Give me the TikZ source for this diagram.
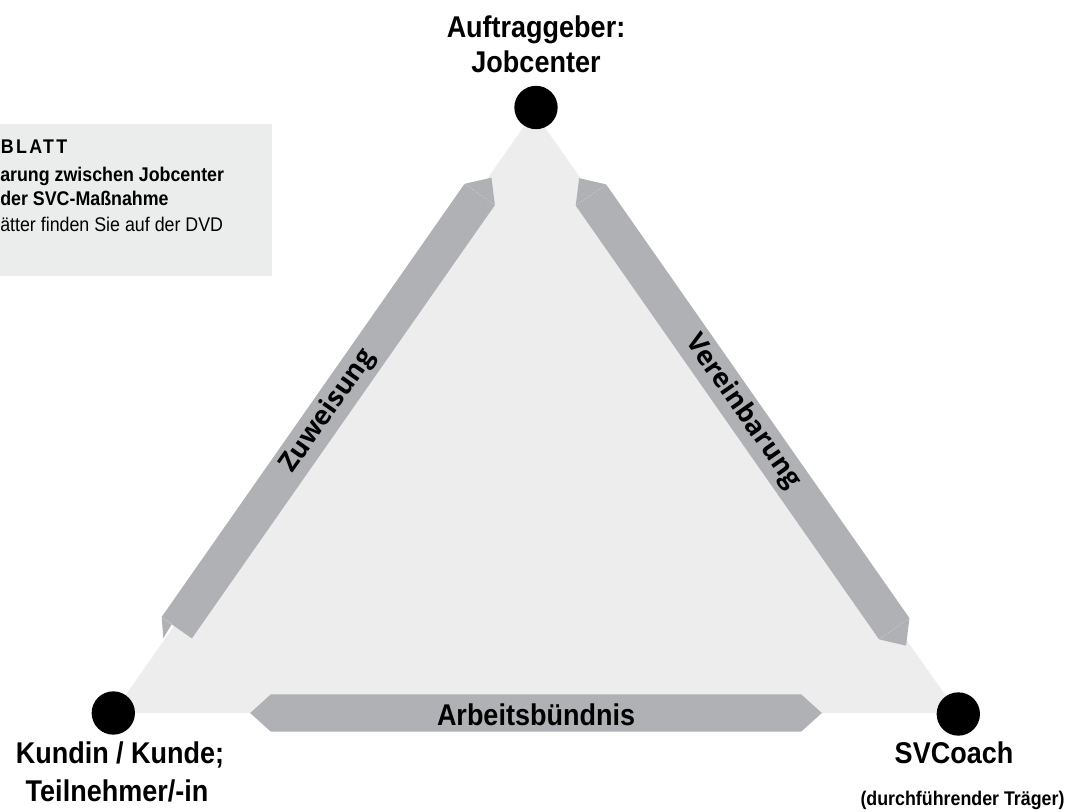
\documentclass[tikz,border=0pt]{standalone}
\usepackage{fontspec}
\usetikzlibrary{calc}
\newfontfamily\labfont{Liberation Sans}[FakeStretch=0.9]
\newfontfamily\diagfont{Open Sans}
\definecolor{bandgray}{HTML}{B0B1B4}
\definecolor{trigray}{HTML}{EDEDED}
\definecolor{infobg}{HTML}{EBECEC}
\def\bw{13.9pt}
\def\bt{15.4pt}
\begin{document}
\begin{tikzpicture}[x=0.75pt,y=-0.75pt,
  foldline/.style={draw=white, draw opacity=0.45, line width=0.3pt, dash pattern=on 1pt off 1pt},
  dotnode/.style={circle, fill=black, minimum size=32.5pt, inner sep=0pt},
  mainlab/.style={font=\labfont\bfseries\fontsize{22.5}{27}\selectfont, inner sep=0pt, anchor=base},
  sublab/.style={font=\labfont\bfseries\fontsize{14.85}{18}\selectfont, inner sep=0pt, anchor=base},
  infolab/.style={font=\labfont\fontsize{14.85}{18}\selectfont, inner sep=0pt, anchor=base west},
  bandlab/.style={font=\diagfont\bfseries\fontsize{20}{24}\selectfont, inner sep=0pt},
]
\useasboundingbox (0,0) rectangle (1066,812);

% info box
\fill[infobg] (0,124) rectangle (271.7,275.7);
\node[infolab] (i1) at (0.5,153.3) {\bfseries\addfontfeatures{LetterSpace=12}BLATT};
\node[infolab] (i2) at (0,181.7) {\bfseries arung zwischen Jobcenter};
\node[infolab] (i3) at (0,206) {\bfseries der SVC-Maßnahme};
\node[infolab] (i4) at (0,231.7) {ätter finden Sie auf der DVD};

% triangle
\coordinate (apex) at (534,112);
\coordinate (bl) at (113,713);
\coordinate (br) at (958,713);
\fill[trigray] (apex) -- (bl) -- (br) -- cycle;

% band end points
\coordinate (zA) at (479.7,194.5);
\coordinate (zB) at (176.7,627.8);
\coordinate (vA) at (590.9,195);
\coordinate (vB) at (894.3,628.8);
\coordinate (aA) at (270.7,713);
\coordinate (aB) at (801.3,713);

% Vereinbarung band (two tips)
\fill[bandgray] ($(vA)!-\bt!(vB)$) -- ($(vA)!\bw!90:(vB)$) -- ($(vB)!\bw!-90:(vA)$) -- ($(vB)!-\bt!(vA)$) -- ($(vB)!\bw!90:(vA)$) -- ($(vA)!\bw!-90:(vB)$) -- cycle;
\draw[foldline] ($(vA)!\bw!90:(vB)$) -- ($(vA)!\bw!-90:(vB)$);
\draw[foldline] ($(vB)!\bw!90:(vA)$) -- ($(vB)!\bw!-90:(vA)$);

% Arbeitsbuendnis band (two tips)
\fill[bandgray] ($(aA)!-\bt!(aB)$) -- ($(aA)!\bw!90:(aB)$) -- ($(aB)!\bw!-90:(aA)$) -- ($(aB)!-\bt!(aA)$) -- ($(aB)!\bw!90:(aA)$) -- ($(aA)!\bw!-90:(aB)$) -- cycle;

% Zuweisung band (tip at top, folded end at bottom)
\fill[bandgray] ($(zA)!-\bt!(zB)$) -- ($(zA)!\bw!90:(zB)$) -- ($(zB)!\bw!-90:(zA)$) -- ($(zB)!\bw!90:(zA)$) -- ($(zA)!\bw!-90:(zB)$) -- cycle;
\draw[foldline] ($(zA)!\bw!90:(zB)$) -- ($(zA)!\bw!-90:(zB)$);
\coordinate (zf1) at (161.7,617.3);
\coordinate (zf2) at (163.3,638.3);
\coordinate (zf3) at (171.7,624.3);
\fill[bandgray] (zf1) -- (zf2) -- (zf3) -- cycle;
\draw[foldline] (zf1) -- (zf3);

% band labels
\node[bandlab, rotate=55] (zw) at ($(zA)!0.5!(zB)$) {Zuweisung};
\node[bandlab, rotate=-55] (vb) at ($(vA)!0.5!(vB)$) {Vereinbarung};
\node[mainlab] (ab) at (536,725) {Arbeitsbündnis};

% dots
\node[dotnode] (top) at (536,107.5) {};
\node[dotnode] (left) at (113.3,713) {};
\node[dotnode] (right) at (958.3,714) {};

% labels
\node[mainlab] (l1) at (536,38) {Auftraggeber:};
\node[mainlab] (l2) at (536,73) {Jobcenter};
\node[mainlab] (k1) at (120,763) {Kundin / Kunde;};
\node[mainlab] (k2) at (117,801) {Teilnehmer/-in};
\node[mainlab] (s1) at (954,763) {SVCoach};
\node[sublab] (s2) at (962.5,805) {(durchführender Träger)};
\end{tikzpicture}
\end{document}
